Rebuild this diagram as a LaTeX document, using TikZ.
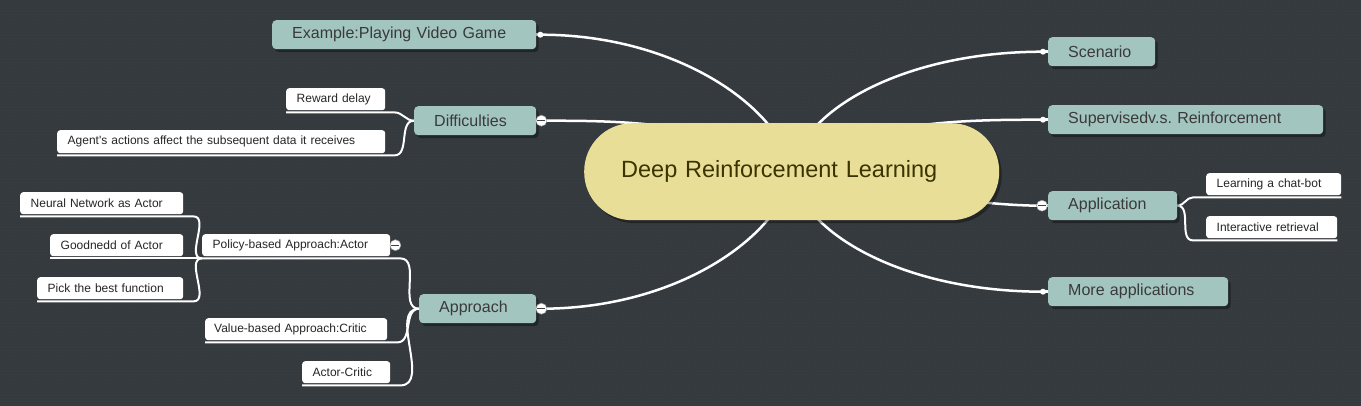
\documentclass[tikz,border=0pt]{standalone}
\usepackage{fontspec}
\setmainfont{Liberation Sans}
\usetikzlibrary{shadows,patterns}
\definecolor{bgc}{HTML}{363B3F}
\definecolor{bgdot}{HTML}{2C3033}
\definecolor{tealc}{HTML}{A3C5BF}
\definecolor{txtc}{HTML}{3A3A3A}
\definecolor{pillc}{HTML}{E8DE98}
\definecolor{pilltxt}{HTML}{3C3400}
\pgfdeclarelayer{bgl}
\pgfdeclarelayer{lines}
\pgfsetlayers{bgl,lines,main}
\frenchspacing
\begin{document}
\begin{tikzpicture}[x=1pt,y=-1pt,
  shad/.style={drop shadow={shadow xshift=2.5pt,shadow yshift=-3pt,fill=black,opacity=0.35}},
  mainbox/.style={shad,fill=tealc,rounded corners=4pt,text=txtc,font=\fontsize{16}{19}\selectfont,
    inner xsep=20pt,inner ysep=0pt,minimum height=29pt,align=left,anchor=north west},
  leafbox/.style={fill=white,rounded corners=3pt,text=black!85,font=\fontsize{12}{14}\selectfont,
    inner xsep=10.5pt,inner ysep=0pt,minimum height=22pt,align=left,anchor=north west},
  centerbox/.style={shad,fill=pillc,rounded corners=48pt,text=pilltxt,font=\fontsize{23.5}{28}\selectfont,
    inner xsep=37pt,inner ysep=0pt,minimum height=97pt,align=left,anchor=north west},
  mainconn/.style={draw=white,line width=2.5pt},
  leafconn/.style={draw=white,line width=2pt},
  dotn/.style={circle,fill=white,minimum size=6pt,inner sep=0pt},
  minusn/.style={circle,fill=white,draw=black!40,line width=0.5pt,minimum size=11pt,inner sep=0pt,
    path picture={\draw[black!75,line width=0.9pt] ([xshift=-4pt]path picture bounding box.center) -- ([xshift=4pt]path picture bounding box.center);}}
]
\useasboundingbox (0,0) rectangle (1361,406);
\begin{pgfonlayer}{bgl}
  \fill[bgc] (0,0) rectangle (1361,406);
  \fill[pattern=dots,pattern color=bgdot] (0,0) rectangle (1361,406);
\end{pgfonlayer}

% central node
\node[centerbox,text width=341pt] (cen) at (584,123) {Deep Reinforcement Learning};

% main branches
\node[mainbox,text width=224pt] (ex) at (272,20) {Example:Playing Video Game};
\node[mainbox,text width=82pt] (diff) at (414,106) {Difficulties};
\node[mainbox,text width=77pt] (appr) at (419,294) {Approach};
\node[mainbox,text width=67pt] (scen) at (1048,37) {Scenario};
\node[mainbox,text width=235pt] (sup) at (1048,105) {Supervisedv.s. Reinforcement};
\node[mainbox,text width=89pt] (app) at (1048,191) {Application};
\node[mainbox,text width=140pt] (more) at (1048,277) {More applications};

% leaves
\node[leafbox,text width=78pt] (rd) at (286,88) {Reward delay};
\node[leafbox,text width=307pt,minimum height=23pt] (ag) at (57,130) {Agent\textquotesingle s actions affect the subsequent data it receives};
\node[leafbox,text width=142pt] (nn) at (20,192) {Neural Network as Actor};
\node[leafbox,text width=112pt] (gd) at (50,234) {Goodnedd of Actor};
\node[leafbox,text width=125pt] (pk) at (37,277) {Pick the best function};
\node[leafbox,text width=167pt] (pol) at (202,234) {Policy-based Approach:Actor};
\node[leafbox,text width=164pt,inner xsep=9pt] (val) at (205,318) {Value-based Approach:Critic};
\node[leafbox,text width=67pt] (ac) at (302,361) {Actor-Critic};
\node[leafbox,text width=114pt] (lc) at (1206,173) {Learning a chat-bot};
\node[leafbox,text width=110pt] (ir) at (1206,216) {Interactive retrieval};

% end markers
\node[dotn] (exd) at ([xshift=4pt]ex.east) {};
\node[minusn] (diffm) at ([xshift=5pt]diff.east) {};
\node[minusn] (apprm) at ([xshift=5pt]appr.east) {};
\node[minusn] (polm) at ([xshift=5pt]pol.east) {};
\node[dotn] (scend) at ([xshift=-5pt]scen.west) {};
\node[dotn] (supd) at ([xshift=-5pt]sup.west) {};
\node[minusn] (appm) at ([xshift=-6pt]app.west) {};
\node[dotn] (mored) at ([xshift=-5pt]more.west) {};

\begin{pgfonlayer}{lines}
  % main connectors
  \draw[mainconn] (exd.center) .. controls +(140,0) and +(-9,-61) .. (cen.center);
  \draw[mainconn] (diffm.center) .. controls +(80,0) and +(-72,-51) .. (cen.center);
  \draw[mainconn] (apprm.center) .. controls +(140,0) and +(-9,61) .. (cen.center);
  \draw[mainconn] (scend.center) .. controls +(-140,0) and +(9,-61) .. (cen.center);
  \draw[mainconn] (supd.center) .. controls +(-83,0) and +(68,-51) .. (cen.center);
  \draw[mainconn] (appm.center) .. controls +(-60,0) and +(100,20) .. (cen.center);
  \draw[mainconn] (mored.center) .. controls +(-140,0) and +(9,61) .. (cen.center);
  \draw[mainconn] (diff.east) -- (diffm.center);
  \draw[mainconn] (appr.east) -- (apprm.center);
  \draw[mainconn] (app.west) -- (appm.center);
  \draw[mainconn] (ex.east) -- (exd.center);
  \draw[mainconn] (scen.west) -- (scend.center);
  \draw[mainconn] (sup.west) -- (supd.center);
  \draw[mainconn] (more.west) -- (mored.center);
  \draw[leafconn] (pol.east) -- (polm.center);
  % difficulties leaves
  \draw[leafconn] ([yshift=-2pt]rd.south west) -- ([xshift=9pt,yshift=-2pt]rd.south east) to[out=0,in=180] (diff.west);
  \draw[leafconn] ([yshift=-2pt]ag.south west) -- ([xshift=9pt,yshift=-2pt]ag.south east) to[out=0,in=180] (diff.west);
  % approach leaves
  \draw[leafconn] ([yshift=-2pt]pol.south west) -- ([xshift=10pt,yshift=-2pt]pol.south east) to[out=0,in=180] (appr.west);
  \draw[leafconn] ([yshift=-2pt]val.south west) -- ([xshift=10pt,yshift=-2pt]val.south east) to[out=0,in=180] (appr.west);
  \draw[leafconn] ([yshift=-2pt]ac.south west) -- ([xshift=10pt,yshift=-2pt]ac.south east) to[out=0,in=180] (appr.west);
  % policy leaves
  \draw[leafconn] ([yshift=-2pt]nn.south west) -- ([xshift=10pt,yshift=-2pt]nn.south east) to[out=0,in=180] ([yshift=-2pt]pol.south west);
  \draw[leafconn] ([yshift=-2pt]gd.south west) -- ([yshift=-2pt]pol.south west);
  \draw[leafconn] ([yshift=-2pt]pk.south west) -- ([xshift=10pt,yshift=-2pt]pk.south east) to[out=0,in=180] ([yshift=-2pt]pol.south west);
  % application leaves
  \draw[leafconn] (app.east) to[out=0,in=180] ([xshift=-13pt,yshift=-2pt]lc.south west) -- ([yshift=-2pt]lc.south east);
  \draw[leafconn] (app.east) to[out=0,in=180] ([xshift=-13pt,yshift=-2pt]ir.south west) -- ([yshift=-2pt]ir.south east);
\end{pgfonlayer}
\end{tikzpicture}
\end{document}
